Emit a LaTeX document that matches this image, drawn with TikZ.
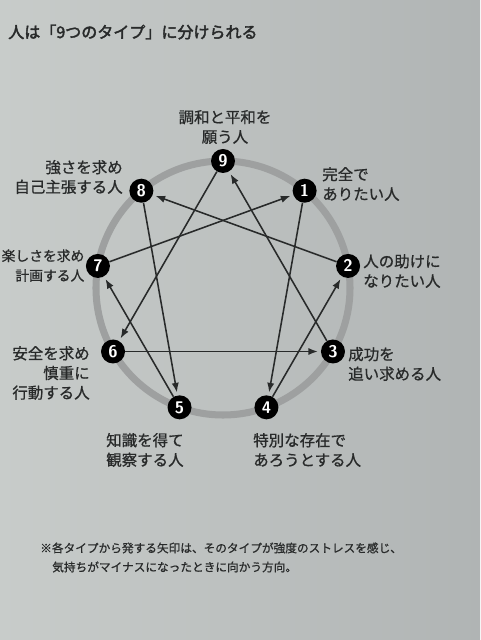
\documentclass[tikz,border=0pt]{standalone}
\usepackage{fontspec}
\newfontfamily\jp[FakeBold=0.8]{Noto Sans CJK JP}
\newfontfamily\jpb[FakeBold=2.5]{Noto Sans CJK JP}
\usetikzlibrary{arrows.meta}
\definecolor{paper}{RGB}{200,204,202}
\definecolor{paperdark}{RGB}{176,180,180}
\definecolor{ring}{RGB}{158,160,160}
\definecolor{ink}{RGB}{40,42,42}
\tikzset{
  typ/.style={circle, fill=black, text=white, minimum size=6mm, inner sep=0pt,
    font=\sffamily\bfseries\large},
  lbl/.style={font=\jp\fontsize{11}{14}\selectfont, text=ink, inner sep=0pt},
  foot/.style={font=\jp\fontsize{8.3}{10}\selectfont, text=ink, inner sep=0pt, anchor=west},
}
\begin{document}
\begin{tikzpicture}[>={Latex[length=2.4mm,width=1.8mm]}]
    \useasboundingbox (-5.575,-8.8) rectangle (6.425,7.2);
    \shade[left color=paper, right color=paperdark] (-5.575,-8.8) rectangle (6.425,7.2);
    % title
    \node[lbl, anchor=west, font=\jpb\fontsize{11.4}{13}\selectfont] (title) at (-5.375,6.4) {人は「9つのタイプ」に分けられる};
    % ring
    \draw[ring, line width=5pt] (0,0) circle (3.175);
    % the nine types
    \node[typ] (n9) at (90:3.175) {9};
    \node[typ] (n1) at (50:3.175) {1};
    \node[typ] (n2) at (10:3.175) {2};
    \node[typ] (n3) at (-30:3.175) {3};
    \node[typ] (n4) at (-70:3.175) {4};
    \node[typ] (n5) at (-110:3.175) {5};
    \node[typ] (n6) at (-150:3.175) {6};
    \node[typ] (n7) at (170:3.175) {7};
    \node[typ] (n8) at (130:3.175) {8};
    % stress arrows
    \draw[->, ink, line width=1.1pt, shorten >=2pt] (n1) -- (n4);
    \draw[->, ink, line width=1.1pt, shorten >=2pt] (n4) -- (n2);
    \draw[->, ink, line width=1.1pt, shorten >=2pt] (n2) -- (n8);
    \draw[->, ink, line width=1.1pt, shorten >=2pt] (n8) -- (n5);
    \draw[->, ink, line width=1.1pt, shorten >=2pt] (n5) -- (n7);
    \draw[->, ink, line width=1.1pt, shorten >=2pt] (n7) -- (n1);
    \draw[->, ink, line width=1.1pt, shorten >=2pt] (n9) -- (n6);
    \draw[->, ink, line width=1.1pt, shorten >=2pt] (n6) -- (n3);
    \draw[->, ink, line width=1.1pt, shorten >=2pt] (n3) -- (n9);
    % labels
    \node[lbl, align=center] (l9) at (0.05,4.025) {調和と平和を\\願う人};
    \node[lbl, align=left, anchor=west] (l1) at (2.475,2.6) {完全で\\ありたい人};
    \node[lbl, align=left, anchor=west] (l2) at (3.5,0.425) {人の助けに\\なりたい人};
    \node[lbl, align=left, anchor=west] (l3) at (3.125,-1.9) {成功を\\追い求める人};
    \node[lbl, align=left, anchor=west] (l4) at (0.75,-4.05) {特別な存在で\\あろうとする人};
    \node[lbl, align=left, anchor=west] (l5) at (-2.925,-4.05) {知識を得て\\観察する人};
    \node[lbl, align=right, anchor=east] (l6) at (-3.325,-2.125) {安全を求め\\慎重に\\行動する人};
    \node[lbl, align=right, anchor=east, font=\jp\fontsize{9.8}{14}\selectfont] (l7) at (-3.46,0.56) {楽しさを求め\\計画する人};
    \node[lbl, align=right, anchor=east] (l8) at (-2.5,2.775) {強さを求め\\自己主張する人};
    % note
    \node[foot] (foot1) at (-4.575,-6.5) {※各タイプから発する矢印は、そのタイプが強度のストレスを感じ、};
    \node[foot] (foot2) at (-4.275,-6.975) {気持ちがマイナスになったときに向かう方向。};
\end{tikzpicture}
\end{document}
